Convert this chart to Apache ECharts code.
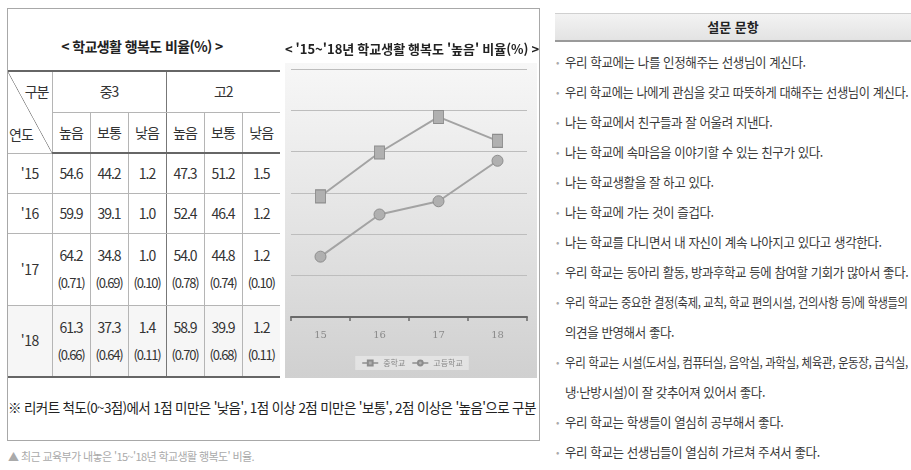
<!DOCTYPE html>
<html lang="ko">
<head>
<meta charset="utf-8">
<script src="https://cdn.jsdelivr.net/npm/echarts@6/dist/echarts.min.js"></script>
<style>
  html, body { margin: 0; padding: 0; background: #fff; }
  body { width: 911px; height: 470px; position: relative; overflow: hidden;
         font-family: "Noto Sans CJK KR", "Noto Sans", sans-serif; color: #333; }
  #leftBox { position: absolute; left: 7px; top: 8px; width: 533px; height: 433px;
             border: 1px solid #a8a8a8; box-sizing: border-box; }
  #tableTitle { position: absolute; left: 8px; top: 36px; width: 268px; text-align: center;
                font-size: 14px; font-weight: bold; letter-spacing: -0.6px; color: #222; }
  #stats { position: absolute; left: 8px; top: 70px; border-collapse: collapse;
           table-layout: fixed; font-size: 14px; letter-spacing: -1px; color: #333; }
  #stats td { padding: 0; text-align: center; vertical-align: middle;
              border-left: 1px solid #b5b5b5; border-bottom: 1px solid #b5b5b5; line-height: 17px; }
  #stats tr:first-child td { border-top: 2px solid #666; }
  #stats td.first { border-left: none; }
  #stats td.split { border-left: 1px solid #777; }
  #stats tr.sub td { border-bottom: 2px solid #666; }
  #stats tr.last td { border-bottom: 2px solid #666; background: #f6f6f6; }
  #stats td.diag { position: relative;
     background: linear-gradient(to top right, transparent calc(50% - 0.7px), #8a8a8a 50%, transparent calc(50% + 0.7px)); }
  #stats td.diag .a { position: absolute; right: 3px; top: 11px; }
  #stats td.diag .b { position: absolute; left: 1px; bottom: 10px; }
  .sd { display: block; margin-top: 10px; font-size: 13px; letter-spacing: -1.2px; }
  .yr { letter-spacing: -0.5px; }
  #note { position: absolute; left: 8px; top: 397px; font-size: 13.5px; letter-spacing: -0.62px;
          color: #222; white-space: nowrap; }
  #caption { position: absolute; left: 8px; top: 448px; font-size: 11px; color: #aaa;
             letter-spacing: -0.6px; white-space: nowrap; }
  #plotBg { position: absolute; left: 285px; top: 63px; width: 252px; height: 315px;
            background: linear-gradient(to bottom, #f7f7f7 0%, #e6e6e6 45%, #d0d0d0 100%); }
  #chart { position: absolute; left: 284px; top: 28px; width: 256px; height: 352px; }
  #qHead { position: absolute; left: 555px; top: 13px; width: 356px; height: 29px;
           background: linear-gradient(to bottom, #f3f3f3, #e3e3e3);
           border-top: 1px solid #d0d0d0; border-bottom: 2px solid #9a9a9a; box-sizing: border-box;
           text-align: center; font-size: 13px; font-weight: bold; line-height: 26px; color: #222; }
  #qList { position: absolute; left: 556px; top: 47px; width: 355px; margin: 0; padding: 0;
           list-style: none; font-size: 13px; letter-spacing: -0.4px; color: #3a3a3a; }
  #qList li { position: relative; padding-left: 9px; line-height: 30px; white-space: nowrap; }
  #qList li::before { content: "•"; position: absolute; left: 0; top: 0; color: #aaa; font-size: 10px; }
  #qList .ln { display: block; height: 30px; }
  #qList .ln span { display: inline-block; transform-origin: 0 50%; }
</style>
</head>
<body>
<div id="leftBox"></div>
<div id="tableTitle">&lt; 학교생활 행복도 비율(%) &gt;</div>
<table id="stats"></table>
<div id="plotBg"></div>
<div id="chart"></div>
<div id="note">※ 리커트 척도(0~3점)에서 1점 미만은 '낮음', 1점 이상 2점 미만은 '보통', 2점 이상은 '높음'으로 구분</div>
<div id="caption">▲ 최근 교육부가 내놓은 '15~'18년 학교생활 행복도' 비율.</div>
<div id="qHead">설문 문항</div>
<ul id="qList"></ul>

<script>
// Survey years and the share of each happiness level (%)
const years = ["15", "16", "17", "18"];
const yearLabels = ["'15", "'16", "'17", "'18"];
const groups = ["중3", "고2"];
const levels = ["높음", "보통", "낮음"];

const midHigh   = [54.6, 59.9, 64.2, 61.3];
const midNormal = [44.2, 39.1, 34.8, 37.3];
const midLow    = [1.2, 1.0, 1.0, 1.4];
const highHigh   = [47.3, 52.4, 54.0, 58.9];
const highNormal = [51.2, 46.4, 44.8, 39.9];
const highLow    = [1.5, 1.2, 1.2, 1.2];

// Standard deviations (reported for '17 and '18 only)
const midHighSd   = [null, null, 0.71, 0.66];
const midNormalSd = [null, null, 0.69, 0.64];
const midLowSd    = [null, null, 0.10, 0.11];
const highHighSd   = [null, null, 0.78, 0.70];
const highNormalSd = [null, null, 0.74, 0.68];
const highLowSd    = [null, null, 0.10, 0.11];

const seriesNames = ["중학교", "고등학교"];

// Questionnaire items; an inner array holds an item that wraps onto two lines
const questions = [
  ["우리 학교에는 나를 인정해주는 선생님이 계신다."],
  ["우리 학교에는 나에게 관심을 갖고 따뜻하게 대해주는 선생님이 계신다."],
  ["나는 학교에서 친구들과 잘 어울려 지낸다."],
  ["나는 학교에 속마음을 이야기할 수 있는 친구가 있다."],
  ["나는 학교생활을 잘 하고 있다."],
  ["나는 학교에 가는 것이 즐겁다."],
  ["나는 학교를 다니면서 내 자신이 계속 나아지고 있다고 생각한다."],
  ["우리 학교는 동아리 활동, 방과후학교 등에 참여할 기회가 많아서 좋다."],
  ["우리 학교는 중요한 결정(축제, 교칙, 학교 편의시설, 건의사항 등)에 학생들의", "의견을 반영해서 좋다."],
  ["우리 학교는 시설(도서실, 컴퓨터실, 음악실, 과학실, 체육관, 운동장, 급식실,", "냉·난방시설)이 잘 갖추어져 있어서 좋다."],
  ["우리 학교는 학생들이 열심히 공부해서 좋다."],
  ["우리 학교는 선생님들이 열심히 가르쳐 주셔서 좋다."]
];

// ---- table ----
const colW = [44, 38, 38, 38, 38, 38, 38];
const rowH = [41, 41, 40, 40, 72, 72];
const cols = [
  [midHigh, midHighSd], [midNormal, midNormalSd], [midLow, midLowSd],
  [highHigh, highHighSd], [highNormal, highNormalSd], [highLow, highLowSd]
];
const tbl = document.getElementById("stats");
let html = "<colgroup>" + colW.map(w => `<col style="width:${w}px">`).join("") + "</colgroup>";
html += `<tr style="height:${rowH[0]}px"><td class="first diag" rowspan="2"><span class="a">구분</span><span class="b">연도</span></td>` +
        `<td colspan="3">${groups[0]}</td><td class="split" colspan="3">${groups[1]}</td></tr>`;
html += `<tr class="sub" style="height:${rowH[1]}px">` +
        levels.map(l => `<td>${l}</td>`).join("") +
        levels.map((l, i) => `<td${i === 0 ? ' class="split"' : ""}>${l}</td>`).join("") + "</tr>";
years.forEach((y, r) => {
  const cls = r === years.length - 1 ? ' class="last"' : "";
  html += `<tr${cls} style="height:${rowH[r + 2]}px"><td class="first yr">${yearLabels[r]}</td>`;
  cols.forEach(([vals, sds], c) => {
    const sd = sds[r] !== null ? `<span class="sd">(${sds[r].toFixed(2)})</span>` : "";
    html += `<td${c === 3 ? ' class="split"' : ""}>${vals[r].toFixed(1)}${sd}</td>`;
  });
  html += "</tr>";
});
tbl.innerHTML = html;

// ---- question list: narrow the text so each line fits the panel ----
const list = document.getElementById("qList");
list.innerHTML = questions.map(q =>
  "<li>" + q.map(t => `<span class="ln"><span>${t}</span></span>`).join("") + "</li>").join("");
const lineMax = 343, baseScale = 0.96;
list.querySelectorAll(".ln span").forEach(s => {
  const w = s.offsetWidth;
  const k = Math.min(baseScale, lineMax / w);
  s.style.transform = `scaleX(${k})`;
});

// ---- line chart: share answering '높음' ----
const chart = echarts.init(document.getElementById("chart"), null, { renderer: "canvas" });
const lineColor = "#a3a3a3";
chart.setOption({
  animation: false,
  backgroundColor: "transparent",
  title: {
    text: "< '15~'18년 학교생활 행복도 '높음' 비율(%) >",
    left: "center", top: 10,
    textStyle: { fontFamily: "Noto Sans CJK KR", fontSize: 13, fontWeight: "bold", color: "#222" }
  },
  grid: { left: 7, right: 13, top: 41, bottom: 63 },
  legend: {
    top: 328, left: "center",
    data: seriesNames,
    backgroundColor: "rgba(240,240,240,0.55)",
    padding: [3, 6], itemGap: 6, itemWidth: 16, itemHeight: 6,
    textStyle: { fontFamily: "Noto Sans CJK KR", fontSize: 8, color: "#888" }
  },
  xAxis: {
    type: "category",
    data: years,
    boundaryGap: true,
    axisLine: { lineStyle: { color: "#6a6a6a", width: 2 } },
    axisTick: { show: true, length: 4, lineStyle: { color: "#6a6a6a", width: 1.5 } },
    axisLabel: { margin: 13, fontFamily: "DejaVu Serif", fontSize: 10, color: "#8a8a8a" }
  },
  yAxis: {
    type: "value",
    min: 40, max: 70, interval: 5,
    axisLine: { show: false },
    axisTick: { show: false },
    axisLabel: { show: false },
    splitLine: { lineStyle: { color: "#bdbdbd", width: 1 } }
  },
  series: [
    {
      name: seriesNames[0], type: "line", data: midHigh,
      symbol: "rect", symbolSize: [10, 13],
      lineStyle: { color: lineColor, width: 2 },
      itemStyle: { color: "#b0b0b0", borderColor: "#8c8c8c", borderWidth: 1 }
    },
    {
      name: seriesNames[1], type: "line", data: highHigh,
      symbol: "circle", symbolSize: 11,
      lineStyle: { color: lineColor, width: 2 },
      itemStyle: { color: "#b0b0b0", borderColor: "#8c8c8c", borderWidth: 1 }
    }
  ]
});
</script>
</body>
</html>
